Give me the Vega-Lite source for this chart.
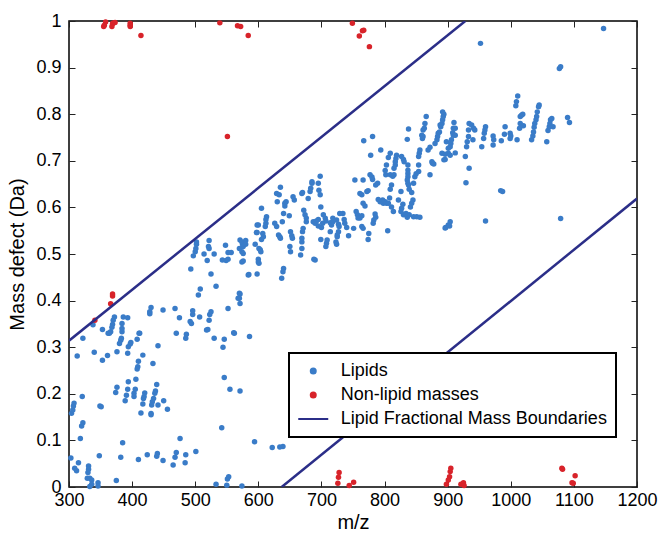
{
"$schema": "https://vega.github.io/schema/vega-lite/v6.json",
"width": 568, "height": 466,
"autosize": {"type": "none"},
"padding": {"left": 69, "top": 21, "right": 22, "bottom": 52},
"config": {
 "view": {"stroke": "black", "strokeWidth": 1.5},
 "font": "Liberation Sans",
 "axis": {"domain": false, "grid": false, "tickColor": "#222", "tickSize": -6, "tickWidth": 1, "labelFlush": false, "labelOverlap": false, "labelFont": "Liberation Sans", "labelFontSize": 18, "labelColor": "black", "titleFont": "Liberation Sans", "titleFontSize": 20, "titleFontWeight": "normal", "titleColor": "black"},
 "legend": {"strokeWidth": 2}
},
"datasets": {
 "lip": [
[304,0.158],[306,0.165],[307,0.174],[308,0.18],[321,0.194],[322,0.138],[320,0.131],[318,0.104],[303,0.062],[309,0.04],[312,0.035],[315,0.052],[331,0.045],[331,0.038],[330,0.031],[329,0.019],[333,0.019],[336,0.015],[333,0.001],[336,0.006],[348,0.067],[346,0.009],[346,0.002],[349,0.174],[351,0.172],[375,0.014],[382,0.064],[385,0.095],[410,0.059],[424,0.069],[440,0.072],[439,0.066],[449,0.057],[465,0.047],[468,0.064],[470,0.074],[476,0.104],[484,0.052],[485,0.069],[501,0.076],[533,0.006],[550,0.004],[551,0.017],[553,0.022],[574,0.002],[542,0.127],[594,0.097],[622,0.085],[634,0.086],[639,0.087],
[322,0.319],[313,0.281],[340,0.289],[353,0.272],[361,0.282],[362,0.330],[366,0.333],[376,0.290],[380,0.308],[382,0.315],[383,0.319],[384,0.333],[393,0.287],[394,0.301],[397,0.307],[398,0.310],[408,0.317],[412,0.33],[417,0.283],[410,0.270],[409,0.258],[408,0.253],[433,0.265],[441,0.303],[470,0.33],[486,0.328],[485,0.319],[518,0.337],[530,0.319],[546,0.317],[544,0.30],[561,0.331],[586,0.323],[546,0.235],[555,0.21],[571,0.206],[376,0.214],[374,0.203],[394,0.226],[393,0.21],[391,0.197],[389,0.185],[405,0.21],[403,0.201],[403,0.194],[406,0.231],[420,0.202],[419,0.194],[418,0.19],[417,0.178],[414,0.159],[439,0.22],[437,0.206],[436,0.201],[434,0.19],[432,0.183],[431,0.176],[430,0.158],[430,0.155],[441,0.176],[450,0.185],[456,0.167],
[338,0.348],[353,0.338],[372,0.365],[370,0.358],[369,0.349],[368,0.343],[364,0.33],[386,0.365],[384,0.351],[384,0.340],[393,0.363],[411,0.33],[430,0.385],[428,0.376],[428,0.372],[449,0.38],[468,0.383],[475,0.363],[492,0.355],[494,0.351],[496,0.37],[496,0.378],[507,0.365],[520,0.338],[522,0.358],[523,0.37],[525,0.376],[552,0.383],[562,0.33],[570,0.405],[571,0.414],[505,0.412],[508,0.425],[533,0.431],[525,0.457],[493,0.468],[571,0.394],
[497,0.496],[500,0.505],[501,0.512],[502,0.521],[502,0.526],[514,0.50],[522,0.512],[521,0.516],[522,0.529],[530,0.50],[519,0.486],[543,0.487],[549,0.486],[552,0.489],[552,0.503],[557,0.503],[548,0.519],[571,0.53],[574,0.526],[575,0.521],[576,0.516],[574,0.505],[576,0.501],[580,0.529],[580,0.521],[574,0.483],[585,0.456],[595,0.521],[598,0.457],[598,0.546],[598,0.562],[629,0.63],[633,0.627],[630,0.612],[605,0.598],[613,0.58],[600,0.562],[597,0.546],[611,0.559],[612,0.566],[607,0.544],[608,0.537],[605,0.531],[626,0.566],[629,0.559],[632,0.541],[603,0.509],[604,0.505],[600,0.489],[600,0.483],[584,0.455],[570,0.512],[576,0.485],[570,0.416],[568,0.405],[601,0.512],[601,0.48],[612,0.574],[634,0.537],[635,0.534],[638,0.569],[635,0.643],[640,0.587],[642,0.603],[642,0.609],[644,0.612],[649,0.582],[651,0.548],[653,0.539],[654,0.534],[650,0.516],[651,0.505],[669,0.63],[670,0.632],[657,0.616],[655,0.623],[674,0.584],[676,0.577],[676,0.569],[671,0.555],[670,0.548],[669,0.534],[669,0.526],[679,0.619],[683,0.641],[685,0.652],[685,0.655],[682,0.634],[695,0.652],[696,0.637],[698,0.667],[698,0.627],[699,0.601],[687,0.569],[690,0.566],[692,0.571],[695,0.574],[703,0.584],[706,0.577],[707,0.571],[695,0.56],[700,0.557],[702,0.566],[714,0.567],[716,0.562],[718,0.569],[718,0.577],[714,0.548],[724,0.573],[727,0.564],[728,0.559],[734,0.587],[729,0.587],[727,0.548],[725,0.541],[736,0.574],[737,0.566],[740,0.557],[743,0.539],[751,0.555],[755,0.591],[757,0.584],[758,0.577],[761,0.63],[764,0.627],[753,0.659],[766,0.659],[772,0.634],[774,0.636],[766,0.609],[769,0.603],[761,0.577],[764,0.582],[764,0.559],[766,0.555],[785,0.586],[786,0.579],[783,0.573],[782,0.566],[775,0.544],[774,0.531],[777,0.67],[780,0.665],[781,0.66],[786,0.648],[789,0.652],[794,0.723],[778,0.712],[767,0.743],[781,0.752],[790,0.617],[793,0.612],[801,0.679],[802,0.67],[803,0.691],[809,0.67],[813,0.667],[815,0.67],[797,0.616],[798,0.609],[801,0.612],[803,0.609],[806,0.609],[809,0.639],[811,0.648],[808,0.62],[811,0.601],[814,0.591],[805,0.55],[809,0.716],[806,0.707],[817,0.691],[817,0.698],[818,0.705],[819,0.712],[815,0.684],[827,0.709],[830,0.703],[831,0.698],[822,0.616],[826,0.634],[829,0.607],[827,0.598],[826,0.591],[830,0.584],[837,0.691],[837,0.68],[837,0.673],[837,0.666],[836,0.659],[837,0.652],[838,0.648],[839,0.639],[843,0.632],[845,0.616],[843,0.609],[841,0.601],[836,0.579],[834,0.587],[846,0.58],[851,0.58],[856,0.579],[839,0.584],[848,0.666],[850,0.672],[854,0.677],[846,0.652],[854,0.691],[856,0.723],[855,0.716],[854,0.709],[860,0.748],[859,0.755],[861,0.752],[861,0.766],[863,0.77],[864,0.78],[866,0.795],[838,0.768],[836,0.746],[872,0.67],[876,0.695],[875,0.698],[878,0.693],[869,0.723],[872,0.729],[880,0.737],[883,0.745],[884,0.752],[885,0.759],[887,0.762],[889,0.773],[891,0.78],[892,0.788],[893,0.795],[894,0.80],[891,0.716],[896,0.703],[901,0.716],[901,0.727],[897,0.557],[901,0.562],[892,0.805],[888,0.777],[898,0.741],
[708,0.523],[707,0.516],[709,0.53],[723,0.526],[725,0.537],[724,0.521],[699,0.531],[667,0.498],[669,0.512],[688,0.489],[640,0.469],[639,0.462],[637,0.448],[690,0.487],[672,0.594],
[910,0.782],[909,0.77],[908,0.76],[909,0.755],[906,0.745],[905,0.737],[904,0.73],[912,0.77],[912,0.755],[896,0.714],[894,0.702],[904,0.712],[912,0.717],[934,0.78],[938,0.777],[933,0.766],[933,0.752],[931,0.741],[930,0.73],[928,0.709],[934,0.684],[929,0.653],[941,0.77],[943,0.766],[940,0.745],[954,0.73],[957,0.748],[958,0.759],[960,0.773],[959,0.766],[972,0.753],[973,0.745],[972,0.734],[985,0.743],[991,0.773],[990,0.757],[999,0.759],[1000,0.753],[999,0.748],[1010,0.745],[1015,0.78],[1014,0.77],[1015,0.795],[1017,0.798],[1019,0.80],[1020,0.775],[1011,0.839],[1009,0.827],[1008,0.818],[1045,0.82],[1044,0.816],[1042,0.805],[1041,0.795],[1040,0.788],[1033,0.745],[1035,0.753],[1036,0.762],[1037,0.772],[1038,0.78],[1057,0.741],[1059,0.765],[1061,0.773],[1063,0.788],[1065,0.791],[1062,0.78],[1067,0.773],[1090,0.793],[1093,0.782],[1077,0.898],[1079,0.902],[1147,0.984],[952,0.952],[984,0.636],[987,0.634],[896,0.556],[903,0.56],[904,0.569],[960,0.571],[1079,0.576]
 ],
 "non": [
[358,0.998],[356,0.991],[355,0.988],[368,0.988],[369,0.994],[370,0.996],[373,0.997],[397,0.995],[397,0.988],[397,0.991],[414,0.969],[539,0.996],[567,0.99],[572,0.988],[584,0.969],[551,0.752],[749,0.995],[765,0.979],[767,0.98],[760,0.968],[776,0.945],[341,0.358],[366,0.393],[369,0.41],[369,0.414],[728,0.031],[727,0.021],[726,0.008],[744,0.003],[751,0.01],[905,0.04],[904,0.033],[903,0.022],[901,0.015],[898,0.006],[921,0.006],[925,0.009],[926,0.003],[1081,0.04],[1082,0.038],[1102,0.024],[1097,0.009],[1099,0.008]
 ],
 "bounds": [
  {"x": 300, "y": 0.314, "b": "upper", "g": "Lipid Fractional Mass Boundaries"},
  {"x": 928, "y": 1.0, "b": "upper", "g": "Lipid Fractional Mass Boundaries"},
  {"x": 637, "y": 0.0, "b": "lower", "g": "Lipid Fractional Mass Boundaries"},
  {"x": 1200, "y": 0.619, "b": "lower", "g": "Lipid Fractional Mass Boundaries"}
 ]
},
"resolve": {"axis": {"x": "independent", "y": "independent"}},
"layer": [
 {
  "data": {"name": "lip"},
  "transform": [{"calculate": "datum[0]", "as": "x"}, {"calculate": "datum[1]", "as": "y"}, {"calculate": "'Lipids'", "as": "g"}],
  "mark": {"type": "point", "filled": true, "size": 30, "opacity": 1},
  "encoding": {
   "x": {"field": "x", "type": "quantitative", "scale": {"domain": [300, 1200], "nice": false, "zero": false}, "axis": {"orient": "bottom", "values": [300,400,500,600,700,800,900,1000,1100,1200], "format": "d", "title": "m/z", "labelPadding": 10, "titlePadding": 3}},
   "y": {"field": "y", "type": "quantitative", "scale": {"domain": [0, 1], "nice": false, "zero": false}, "axis": {"orient": "left", "values": [0,0.1,0.2,0.3,0.4,0.5,0.6,0.7,0.8,0.9,1], "format": ".1~f", "title": "Mass defect (Da)", "labelPadding": 14, "titlePadding": 8}},
   "color": {"field": "g", "type": "nominal",
    "scale": {"domain": ["Lipids", "Non-lipid masses", "Lipid Fractional Mass Boundaries"], "range": ["#3a7cc8", "#d8232a", "#2b2e88"]},
    "legend": {"orient": "none", "legendX": 220, "legendY": 332, "title": null, "strokeColor": "black", "fillColor": "white", "padding": 9, "labelFontSize": 18, "labelFont": "Liberation Sans", "labelColor": "black", "labelOffset": 18.5, "symbolOffset": 6.25, "labelLimit": 400, "rowPadding": 6, "symbolSize": 25, "symbolStrokeWidth": 2}},
   "shape": {"field": "g", "type": "nominal", "scale": {"domain": ["Lipids", "Non-lipid masses", "Lipid Fractional Mass Boundaries"], "range": ["circle", "circle", "M-6,0H6"]}}
  }
 },
 {
  "data": {"name": "non"},
  "transform": [{"calculate": "datum[0]", "as": "x"}, {"calculate": "datum[1]", "as": "y"}, {"calculate": "'Non-lipid masses'", "as": "g"}],
  "mark": {"type": "point", "filled": true, "size": 30, "opacity": 1},
  "encoding": {
   "x": {"field": "x", "type": "quantitative", "scale": {"domain": [300, 1200], "nice": false, "zero": false}, "axis": null},
   "y": {"field": "y", "type": "quantitative", "scale": {"domain": [0, 1], "nice": false, "zero": false}, "axis": null},
   "color": {"field": "g", "type": "nominal"},
   "shape": {"field": "g", "type": "nominal"}
  }
 },
 {
  "data": {"name": "bounds"},
  "mark": {"type": "line", "strokeWidth": 2.5, "clip": true},
  "encoding": {
   "x": {"field": "x", "type": "quantitative", "scale": {"domain": [300, 1200], "nice": false, "zero": false}, "axis": {"orient": "top", "values": [300,400,500,600,700,800,900,1000,1100,1200], "labels": false, "title": null}},
   "y": {"field": "y", "type": "quantitative", "scale": {"domain": [0, 1], "nice": false, "zero": false}, "axis": {"orient": "right", "values": [0,0.1,0.2,0.3,0.4,0.5,0.6,0.7,0.8,0.9,1], "labels": false, "title": null}},
   "color": {"field": "g", "type": "nominal"},
   "detail": {"field": "b"}
  }
 }
]
}
